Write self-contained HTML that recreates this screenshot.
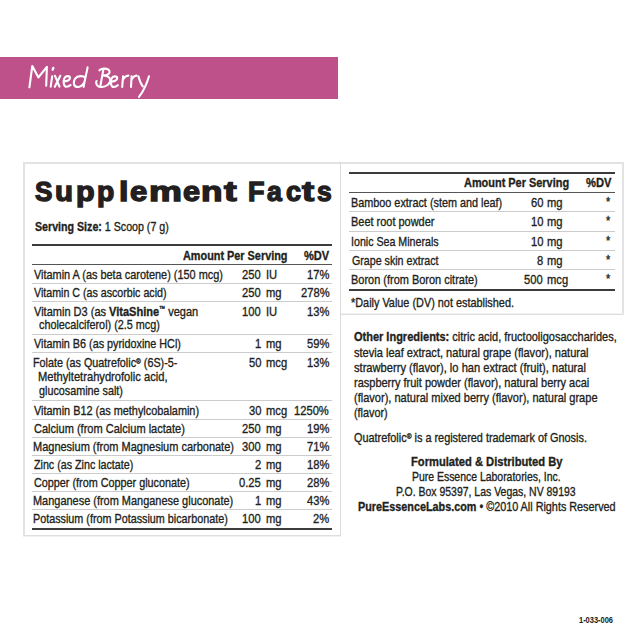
<!DOCTYPE html>
<html><head><meta charset='utf-8'><style>
html,body{margin:0;padding:0;background:#fff;width:640px;height:640px;overflow:hidden}
body{position:relative;font-family:"Liberation Sans", sans-serif;color:#231f20}
span{position:absolute;white-space:nowrap;line-height:normal;transform-origin:0 0;-webkit-text-stroke:0.35px #231f20}
div{position:absolute;box-sizing:content-box}
sup{font-size:60%;vertical-align:0;position:relative;top:-0.45em}
b{font-weight:700}
.tm{font-size:55%;top:-0.6em}
</style></head><body>
<div style='left:0;top:57px;width:338px;height:41.8px;background:#be5189'></div>
<svg style='position:absolute;left:0;top:0' width='640' height='120' viewBox='0 0 640 120'>
<g fill='none' stroke='#fff' stroke-width='2.1' stroke-linecap='round' stroke-linejoin='round'>
<path d='M29.4 87.3 L32.3 66 L38.4 77.4 L46.9 66.8 L46.2 85.8'/>
<path d='M52.2 76.2 L50.7 86.6'/>
<path d='M53.3 67.9 L52.7 69.7' stroke-width='2.3'/>
<path d='M55 75.8 L59.5 86.6 M60.3 75.8 L54.8 86.8'/>
<path d='M63.8 81.4 C66.5 81.2 70.2 80.3 70 77.9 C69.8 75.6 65.6 75.3 64.2 78.6 C62.8 82 63.8 86.8 66.6 86.8 C68.2 86.8 69.6 86 70.6 85'/>
<path d='M85.4 77.8 C83.4 75.6 77.6 75.2 75.1 78.6 C73 81.6 73.4 86.6 76.8 86.9 C79.8 87.2 82.6 85.2 84.2 82.4 M87.6 67.4 C86.6 73 84.6 80 83.6 86.9'/>
<path d='M103.4 69.4 L100.4 85.8'/>
<path d='M99.4 70.4 C101 68.4 106 68 108.4 69.6 C110.4 71 109.8 73.6 107.6 74.6 C106.2 75.3 104.6 75.4 103.4 75.4 C107.4 75.6 110.6 77.6 110.2 80.6 C109.8 84 106.2 86.8 102 87 C99 87.2 96.6 85.6 96.2 83.2 C96 82 96.2 81.4 96.6 81'/>
<path d='M111 81.6 C113.7 81.4 117.4 80.5 117.2 78.1 C117 75.8 112.8 75.5 111.4 78.8 C110 82.2 111 87 113.8 87 C115.4 87 116.8 86.2 117.8 85.2'/>
<path d='M123.1 76.2 L122.2 86.9 M122.8 80 C124 77.4 126 75.8 128.4 75.6'/>
<path d='M131.6 76.2 L131 86.9 M131.4 80 C132.6 77.4 134.4 75.8 136.6 75.6'/>
<path d='M138.4 76.2 C139.4 80 141 84 142.8 86.3 M149 76.2 C147 83 143.6 91 139 96.9'/>
</g></svg>
<div style='left:23px;top:162px;width:318px;height:2px;background:#e3e3e3'></div><div style='left:23px;top:162px;width:2px;height:374px;background:#e3e3e3'></div><div style='left:23px;top:535px;width:318px;height:1px;background:#dedede'></div><div style='left:23px;top:536px;width:318px;height:1px;background:#f1f1f1'></div><div style='left:340px;top:162px;width:284px;height:2px;background:#e3e3e3'></div><div style='left:622px;top:162px;width:2px;height:153px;background:#e3e3e3'></div><div style='left:340px;top:314px;width:284px;height:1px;background:#dedede'></div><div style='left:340px;top:313px;width:284px;height:1px;background:#f1f1f1'></div><div style='left:340px;top:162px;width:1px;height:374px;background:#dadada'></div><div style='left:31.7px;top:244.0px;width:300.10px;height:2px;background:#3c3c3c'></div><div style='left:31.7px;top:264.0px;width:300.10px;height:1px;background:#555'></div><div style='left:31.7px;top:282.8px;width:300.10px;height:1px;background:#cccccc'></div><div style='left:31.7px;top:300.8px;width:300.10px;height:1px;background:#cccccc'></div><div style='left:31.7px;top:333.8px;width:300.10px;height:1px;background:#cccccc'></div><div style='left:31.7px;top:351.8px;width:300.10px;height:1px;background:#cccccc'></div><div style='left:31.7px;top:400.3px;width:300.10px;height:1px;background:#cccccc'></div><div style='left:31.7px;top:419.0px;width:300.10px;height:1px;background:#cccccc'></div><div style='left:31.7px;top:437.3px;width:300.10px;height:1px;background:#cccccc'></div><div style='left:31.7px;top:455.0px;width:300.10px;height:1px;background:#cccccc'></div><div style='left:31.7px;top:473.0px;width:300.10px;height:1px;background:#cccccc'></div><div style='left:31.7px;top:491.3px;width:300.10px;height:1px;background:#cccccc'></div><div style='left:31.7px;top:509.2px;width:300.10px;height:1px;background:#cccccc'></div><div style='left:31.7px;top:528.3px;width:300.10px;height:2px;background:#3c3c3c'></div><div style='left:349.2px;top:171.6px;width:265.60px;height:2px;background:#3c3c3c'></div><div style='left:349.2px;top:191.8px;width:265.60px;height:1px;background:#555'></div><div style='left:349.2px;top:211.0px;width:265.60px;height:1px;background:#cccccc'></div><div style='left:349.2px;top:230.8px;width:265.60px;height:1px;background:#cccccc'></div><div style='left:349.2px;top:249.8px;width:265.60px;height:1px;background:#cccccc'></div><div style='left:349.2px;top:269.0px;width:265.60px;height:1px;background:#cccccc'></div><div style='left:349.2px;top:288.6px;width:265.60px;height:2px;background:#3c3c3c'></div>
<span style='left:34.50px;top:219.49px;font-size:13px;transform:scaleX(0.8190);'><b>Serving Size:</b> 1 Scoop (7 g)</span>
<span style='left:183.00px;top:248.24px;font-size:13px;transform:scaleX(0.8360);'><b>Amount Per Serving</b></span>
<span style='left:303.75px;top:248.24px;font-size:13px;transform:scaleX(0.8500);'><b>%DV</b></span>
<span style='left:33.75px;top:267.34px;font-size:13px;transform:scaleX(0.8389);'>Vitamin A (as beta carotene) (150 mcg)</span>
<span style='left:241.98px;top:267.34px;font-size:13px;transform:scaleX(0.8600);'>250</span>
<span style='left:265.54px;top:267.34px;font-size:13px;transform:scaleX(0.8600);'>IU</span>
<span style='left:306.89px;top:267.34px;font-size:13px;transform:scaleX(0.8600);'>17%</span>
<span style='left:33.75px;top:285.13px;font-size:13px;transform:scaleX(0.8199);'>Vitamin C (as ascorbic acid)</span>
<span style='left:241.98px;top:285.13px;font-size:13px;transform:scaleX(0.8600);'>250</span>
<span style='left:265.54px;top:285.13px;font-size:13px;transform:scaleX(0.8600);'>mg</span>
<span style='left:300.87px;top:285.13px;font-size:13px;transform:scaleX(0.8600);'>278%</span>
<span style='left:33.75px;top:303.74px;font-size:13px;transform:scaleX(0.8474);'>Vitamin D3 (as <b>VitaShine</b><sup class=tm>&trade;</sup> vegan</span>
<span style='left:241.98px;top:303.74px;font-size:13px;transform:scaleX(0.8600);'>100</span>
<span style='left:265.54px;top:303.74px;font-size:13px;transform:scaleX(0.8600);'>IU</span>
<span style='left:306.89px;top:303.74px;font-size:13px;transform:scaleX(0.8600);'>13%</span>
<span style='left:33.75px;top:336.24px;font-size:13px;transform:scaleX(0.8310);'>Vitamin B6 (as pyridoxine HCl)</span>
<span style='left:254.88px;top:336.24px;font-size:13px;transform:scaleX(0.8600);'>1</span>
<span style='left:265.54px;top:336.24px;font-size:13px;transform:scaleX(0.8600);'>mg</span>
<span style='left:306.89px;top:336.24px;font-size:13px;transform:scaleX(0.8600);'>59%</span>
<span style='left:32.92px;top:355.24px;font-size:13px;transform:scaleX(0.8292);'>Folate (as Quatrefolic<sup>&reg;</sup> (6S)-5-</span>
<span style='left:248.86px;top:355.24px;font-size:13px;transform:scaleX(0.8600);'>50</span>
<span style='left:265.54px;top:355.24px;font-size:13px;transform:scaleX(0.8600);'>mcg</span>
<span style='left:306.89px;top:355.24px;font-size:13px;transform:scaleX(0.8600);'>13%</span>
<span style='left:33.75px;top:403.24px;font-size:13px;transform:scaleX(0.8378);'>Vitamin B12 (as methylcobalamin)</span>
<span style='left:248.86px;top:403.24px;font-size:13px;transform:scaleX(0.8600);'>30</span>
<span style='left:265.54px;top:403.24px;font-size:13px;transform:scaleX(0.8600);'>mcg</span>
<span style='left:293.99px;top:403.24px;font-size:13px;transform:scaleX(0.8600);'>1250%</span>
<span style='left:33.75px;top:420.99px;font-size:13px;transform:scaleX(0.8489);'>Calcium (from Calcium lactate)</span>
<span style='left:241.98px;top:420.99px;font-size:13px;transform:scaleX(0.8600);'>250</span>
<span style='left:265.54px;top:420.99px;font-size:13px;transform:scaleX(0.8600);'>mg</span>
<span style='left:306.89px;top:420.99px;font-size:13px;transform:scaleX(0.8600);'>19%</span>
<span style='left:32.90px;top:438.99px;font-size:13px;transform:scaleX(0.8453);'>Magnesium (from Magnesium carbonate)</span>
<span style='left:241.98px;top:438.99px;font-size:13px;transform:scaleX(0.8600);'>300</span>
<span style='left:265.54px;top:438.99px;font-size:13px;transform:scaleX(0.8600);'>mg</span>
<span style='left:306.89px;top:438.99px;font-size:13px;transform:scaleX(0.8600);'>71%</span>
<span style='left:33.75px;top:456.99px;font-size:13px;transform:scaleX(0.8229);'>Zinc (as Zinc lactate)</span>
<span style='left:254.88px;top:456.99px;font-size:13px;transform:scaleX(0.8600);'>2</span>
<span style='left:265.54px;top:456.99px;font-size:13px;transform:scaleX(0.8600);'>mg</span>
<span style='left:306.89px;top:456.99px;font-size:13px;transform:scaleX(0.8600);'>18%</span>
<span style='left:33.75px;top:475.24px;font-size:13px;transform:scaleX(0.8316);'>Copper (from Copper gluconate)</span>
<span style='left:239.40px;top:475.24px;font-size:13px;transform:scaleX(0.8600);'>0.25</span>
<span style='left:265.54px;top:475.24px;font-size:13px;transform:scaleX(0.8600);'>mg</span>
<span style='left:306.89px;top:475.24px;font-size:13px;transform:scaleX(0.8600);'>28%</span>
<span style='left:32.91px;top:493.24px;font-size:13px;transform:scaleX(0.8422);'>Manganese (from Manganese gluconate)</span>
<span style='left:254.88px;top:493.24px;font-size:13px;transform:scaleX(0.8600);'>1</span>
<span style='left:265.54px;top:493.24px;font-size:13px;transform:scaleX(0.8600);'>mg</span>
<span style='left:306.89px;top:493.24px;font-size:13px;transform:scaleX(0.8600);'>43%</span>
<span style='left:32.92px;top:511.24px;font-size:13px;transform:scaleX(0.8294);'>Potassium (from Potassium bicarbonate)</span>
<span style='left:241.98px;top:511.24px;font-size:13px;transform:scaleX(0.8600);'>100</span>
<span style='left:265.54px;top:511.24px;font-size:13px;transform:scaleX(0.8600);'>mg</span>
<span style='left:312.91px;top:511.24px;font-size:13px;transform:scaleX(0.8600);'>2%</span>
<span style='left:38.75px;top:316.99px;font-size:13px;transform:scaleX(0.8321);'>cholecalciferol) (2.5 mcg)</span>
<span style='left:37.89px;top:369.49px;font-size:13px;transform:scaleX(0.8574);'>Methyltetrahydrofolic acid,</span>
<span style='left:38.75px;top:383.24px;font-size:13px;transform:scaleX(0.8292);'>glucosamine salt)</span>
<span style='left:464.40px;top:175.24px;font-size:13px;transform:scaleX(0.8408);'><b>Amount Per Serving</b></span>
<span style='left:585.50px;top:175.24px;font-size:13px;transform:scaleX(0.8583);'><b>%DV</b></span>
<span style='left:351.07px;top:194.83px;font-size:13px;transform:scaleX(0.8333);'>Bamboo extract (stem and leaf)</span>
<span style='left:531.06px;top:194.83px;font-size:13px;transform:scaleX(0.8600);'>60</span>
<span style='left:547.04px;top:194.83px;font-size:13px;transform:scaleX(0.8600);'>mg</span>
<span style='left:605.90px;top:194.74px;font-size:12px;transform:scaleX(0.9000);'>*</span>
<span style='left:351.06px;top:214.24px;font-size:13px;transform:scaleX(0.8429);'>Beet root powder</span>
<span style='left:531.06px;top:214.24px;font-size:13px;transform:scaleX(0.8600);'>10</span>
<span style='left:547.04px;top:214.24px;font-size:13px;transform:scaleX(0.8600);'>mg</span>
<span style='left:605.90px;top:214.14px;font-size:12px;transform:scaleX(0.9000);'>*</span>
<span style='left:351.08px;top:233.63px;font-size:13px;transform:scaleX(0.8193);'>Ionic Sea Minerals</span>
<span style='left:531.06px;top:233.63px;font-size:13px;transform:scaleX(0.8600);'>10</span>
<span style='left:547.04px;top:233.63px;font-size:13px;transform:scaleX(0.8600);'>mg</span>
<span style='left:605.90px;top:233.54px;font-size:12px;transform:scaleX(0.9000);'>*</span>
<span style='left:351.90px;top:253.04px;font-size:13px;transform:scaleX(0.8193);'>Grape skin extract</span>
<span style='left:537.08px;top:253.04px;font-size:13px;transform:scaleX(0.8600);'>8</span>
<span style='left:547.04px;top:253.04px;font-size:13px;transform:scaleX(0.8600);'>mg</span>
<span style='left:605.90px;top:252.94px;font-size:12px;transform:scaleX(0.9000);'>*</span>
<span style='left:351.06px;top:272.34px;font-size:13px;transform:scaleX(0.8430);'>Boron (from Boron citrate)</span>
<span style='left:524.18px;top:272.34px;font-size:13px;transform:scaleX(0.8600);'>500</span>
<span style='left:547.04px;top:272.34px;font-size:13px;transform:scaleX(0.8600);'>mcg</span>
<span style='left:605.90px;top:272.24px;font-size:12px;transform:scaleX(0.9000);'>*</span>
<span style='left:351.25px;top:295.24px;font-size:13px;transform:scaleX(0.8363);'>*Daily Value (DV) not established.</span>
<span style='left:354.25px;top:329.49px;font-size:13px;transform:scaleX(0.8456);'><b>Other Ingredients:</b> citric acid, fructooligosaccharides,</span>
<span style='left:354.25px;top:344.63px;font-size:13px;transform:scaleX(0.8498);'>stevia leaf extract, natural grape (flavor), natural</span>
<span style='left:354.25px;top:359.74px;font-size:13px;transform:scaleX(0.8563);'>strawberry (flavor), lo han extract (fruit), natural</span>
<span style='left:354.25px;top:374.84px;font-size:13px;transform:scaleX(0.8459);'>raspberry fruit powder (flavor), natural berry acai</span>
<span style='left:354.25px;top:390.04px;font-size:13px;transform:scaleX(0.8490);'>(flavor), natural mixed berry (flavor), natural grape</span>
<span style='left:354.25px;top:405.24px;font-size:13px;transform:scaleX(0.8338);'>(flavor)</span>
<span style='left:354.25px;top:430.24px;font-size:13px;transform:scaleX(0.8375);'>Quatrefolic<sup>&reg;</sup> is a registered trademark of Gnosis.</span>
<span style='left:410.75px;top:453.99px;font-size:13px;transform:scaleX(0.8594);'><b>Formulated &amp; Distributed By</b></span>
<span style='left:411.70px;top:469.49px;font-size:13px;transform:scaleX(0.8033);'>Pure Essence Laboratories, Inc.</span>
<span style='left:396.19px;top:484.49px;font-size:13px;transform:scaleX(0.8052);'>P.O. Box 95397, Las Vegas, NV 89193</span>
<span style='left:358.00px;top:499.49px;font-size:13px;transform:scaleX(0.8317);'><b>PureEssenceLabs.com</b> &bull; &copy;2010 All Rights Reserved</span>
<span style='left:578.70px;top:615.00px;font-size:8.4px;transform:scaleX(0.8895);-webkit-text-stroke:0.05px #231f20;'><b>1-033-006</b></span>
<span style='left:35.49px;top:174.51px;font-size:28.5px;font-weight:700;transform:scaleX(0.9148);-webkit-text-stroke:1.4px #231f20'>S</span>
<span style='left:55.15px;top:174.51px;font-size:28.5px;font-weight:700;transform:scaleX(1.0321);-webkit-text-stroke:1.4px #231f20'>u</span>
<span style='left:75.64px;top:174.51px;font-size:28.5px;font-weight:700;transform:scaleX(1.0691);-webkit-text-stroke:1.4px #231f20'>p</span>
<span style='left:96.93px;top:174.51px;font-size:28.5px;font-weight:700;transform:scaleX(0.9929);-webkit-text-stroke:1.4px #231f20'>p</span>
<span style='left:119.07px;top:174.51px;font-size:28.5px;font-weight:700;transform:scaleX(1.1864);-webkit-text-stroke:1.4px #231f20'>l</span>
<span style='left:129.55px;top:174.51px;font-size:28.5px;font-weight:700;transform:scaleX(1.0882);-webkit-text-stroke:1.4px #231f20'>e</span>
<span style='left:148.77px;top:174.51px;font-size:28.5px;font-weight:700;transform:scaleX(1.2990);-webkit-text-stroke:1.4px #231f20'>m</span>
<span style='left:182.66px;top:174.51px;font-size:28.5px;font-weight:700;transform:scaleX(1.0750);-webkit-text-stroke:1.4px #231f20'>e</span>
<span style='left:200.75px;top:174.51px;font-size:28.5px;font-weight:700;transform:scaleX(1.2333);-webkit-text-stroke:1.4px #231f20'>n</span>
<span style='left:223.77px;top:174.51px;font-size:28.5px;font-weight:700;transform:scaleX(1.3340);-webkit-text-stroke:1.4px #231f20'>t</span>
<span style='left:248.06px;top:174.51px;font-size:28.5px;font-weight:700;transform:scaleX(0.9459);-webkit-text-stroke:1.4px #231f20'>F</span>
<span style='left:266.87px;top:174.51px;font-size:28.5px;font-weight:700;transform:scaleX(0.9339);-webkit-text-stroke:1.4px #231f20'>a</span>
<span style='left:285.91px;top:174.51px;font-size:28.5px;font-weight:700;transform:scaleX(0.9476);-webkit-text-stroke:1.4px #231f20'>c</span>
<span style='left:302.35px;top:174.51px;font-size:28.5px;font-weight:700;transform:scaleX(1.2850);-webkit-text-stroke:1.4px #231f20'>t</span>
<span style='left:316.62px;top:174.51px;font-size:28.5px;font-weight:700;transform:scaleX(0.9284);-webkit-text-stroke:1.4px #231f20'>s</span>
</body></html>
